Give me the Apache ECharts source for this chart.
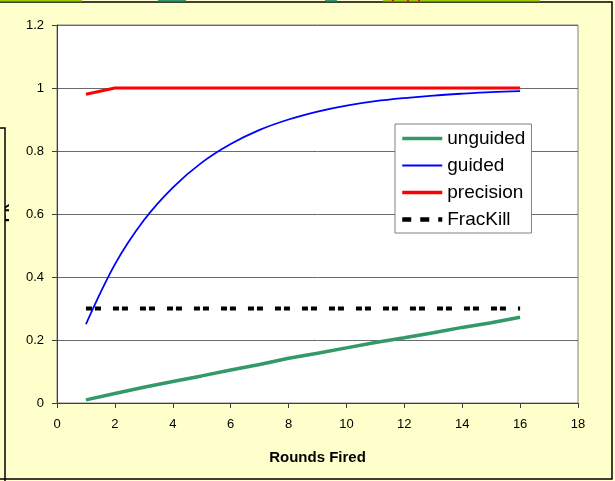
<!DOCTYPE html>
<html>
<head>
<meta charset="utf-8">
<script src="https://cdn.jsdelivr.net/npm/echarts@6/dist/echarts.min.js"></script>
<style>
  html, body { margin: 0; padding: 0; background: #FFFFCC; }
  #chart { width: 615px; height: 481px; }
</style>
</head>
<body>
<div id="chart"></div>
<script>
// Rounds fired (x) and probability of kill for each weapon type
const rounds = [1, 2, 3, 4, 5, 6, 7, 8, 9, 10, 11, 12, 13, 14, 15, 16];
const unguided = [0.01, 0.03, 0.05, 0.068, 0.086, 0.105, 0.122, 0.142, 0.158, 0.175, 0.192, 0.207, 0.223, 0.24, 0.255, 0.272];
const guided = [0.25, 0.44, 0.58, 0.684, 0.763, 0.822, 0.867, 0.9, 0.925, 0.944, 0.958, 0.968, 0.976, 0.982, 0.987, 0.99];
const precision = [0.98, 1, 1, 1, 1, 1, 1, 1, 1, 1, 1, 1, 1, 1, 1, 1];
const fracKill = [0.3, 0.3, 0.3, 0.3, 0.3, 0.3, 0.3, 0.3, 0.3, 0.3, 0.3, 0.3, 0.3, 0.3, 0.3, 0.3];

const xTitle = 'Rounds Fired';
const yTitle = 'Pk';

const pairs = vals => rounds.map((r, i) => [r, vals[i]]);
const FONT = '"Liberation Sans", Arial, sans-serif';

const chart = echarts.init(document.getElementById('chart'), null, { renderer: 'canvas' });

// line-only legend keys: the point symbol is kept fully transparent
const hiddenPoint = { opacity: 0 };

chart.setOption({
  backgroundColor: '#FFFFCC',
  animation: false,
  grid: {
    left: 57, right: 37, top: 25, bottom: 78,
    show: true, backgroundColor: '#ffffff',
    borderColor: '#808080', borderWidth: 1
  },
  xAxis: {
    type: 'value', min: 0, max: 18, interval: 2,
    name: xTitle, nameLocation: 'middle', nameGap: 47,
    nameTextStyle: { fontFamily: FONT, fontSize: 15, fontWeight: 'bold', color: '#000' },
    axisLine: { onZero: false, lineStyle: { color: '#404040', width: 1 } },
    axisTick: { show: true, length: 5, lineStyle: { color: '#404040' } },
    axisLabel: { fontFamily: FONT, fontSize: 13, color: '#000', margin: 15 },
    splitLine: { show: false }
  },
  yAxis: {
    type: 'value', min: 0, max: 1.2, interval: 0.2,
    axisLine: { show: true, lineStyle: { color: '#404040', width: 1 } },
    axisTick: { show: true, length: 5, lineStyle: { color: '#404040' } },
    axisLabel: { fontFamily: FONT, fontSize: 13, color: '#000', margin: 13 },
    splitLine: { show: true, lineStyle: { color: '#6b6b6b', width: 1 } }
  },
  legend: {
    orient: 'vertical', left: 395, top: 124,
    backgroundColor: '#ffffff', borderColor: '#808080', borderWidth: 1,
    padding: [5, 6, 4, 5],
    itemWidth: 40, itemHeight: 20, itemGap: 8,
    itemStyle: hiddenPoint,
    textStyle: { fontFamily: FONT, fontSize: 19, color: '#000' },
    data: [
      { name: 'unguided', itemStyle: hiddenPoint, lineStyle: { width: 3.5 } },
      { name: 'guided', itemStyle: hiddenPoint, lineStyle: { width: 2 } },
      { name: 'precision', itemStyle: hiddenPoint, lineStyle: { width: 3.5 } },
      { name: 'FracKill', itemStyle: hiddenPoint, lineStyle: { width: 4.5, type: [9, 9] } }
    ]
  },
  graphic: [
    // axis title partly hidden behind the neighbouring frame
    { type: 'text', z: 1, x: 5, y: 213, rotation: Math.PI / 2,
      style: { text: yTitle, font: 'bold 15px ' + FONT, fill: '#000', align: 'center', verticalAlign: 'middle' } },
    { type: 'rect', z: 2, shape: { x: -2, y: 128, width: 7, height: 360 },
      style: { fill: '#FFFFCC', stroke: '#000', lineWidth: 1.5 } },
    // outer frame
    { type: 'rect', z: 2, shape: { x: -5, y: 2, width: 617, height: 477 },
      style: { fill: 'none', stroke: '#000', lineWidth: 1.5 } },
    // cell strip along the top edge
    { type: 'rect', z: 3, shape: { x: 0, y: 0, width: 82, height: 1.5 }, style: { fill: '#99CC00' } },
    { type: 'rect', z: 3, shape: { x: 158, y: 0, width: 28, height: 1.5 }, style: { fill: '#339966' } },
    { type: 'rect', z: 3, shape: { x: 325, y: 0, width: 12, height: 1.5 }, style: { fill: '#339966' } },
    { type: 'rect', z: 3, shape: { x: 383, y: 0, width: 157, height: 1.5 }, style: { fill: '#99CC00' } },
    { type: 'rect', z: 4, shape: { x: 392, y: 0, width: 2, height: 1.5 }, style: { fill: '#FF0000' } },
    { type: 'rect', z: 4, shape: { x: 407, y: 0, width: 2, height: 1.5 }, style: { fill: '#FF0000' } },
    { type: 'rect', z: 4, shape: { x: 418, y: 0, width: 2, height: 1.5 }, style: { fill: '#FF0000' } }
  ],
  series: [
    { name: 'unguided', type: 'line', symbol: 'none', data: pairs(unguided),
      lineStyle: { color: '#339966', width: 3.5 }, itemStyle: { color: '#339966' }, z: 3 },
    { name: 'guided', type: 'line', symbol: 'none', smooth: 0.35, data: pairs(guided),
      lineStyle: { color: '#0000FF', width: 1.8 }, itemStyle: { color: '#0000FF' }, z: 3 },
    { name: 'precision', type: 'line', symbol: 'none', data: pairs(precision),
      lineStyle: { color: '#FF0000', width: 3 }, itemStyle: { color: '#FF0000' }, z: 3 },
    { name: 'FracKill', type: 'line', symbol: 'none', data: pairs(fracKill),
      lineStyle: { color: '#000000', width: 4, type: [6, 3, 6, 12], cap: 'butt' },
      itemStyle: { color: '#000000' }, z: 2 }
  ]
});
</script>
</body>
</html>
